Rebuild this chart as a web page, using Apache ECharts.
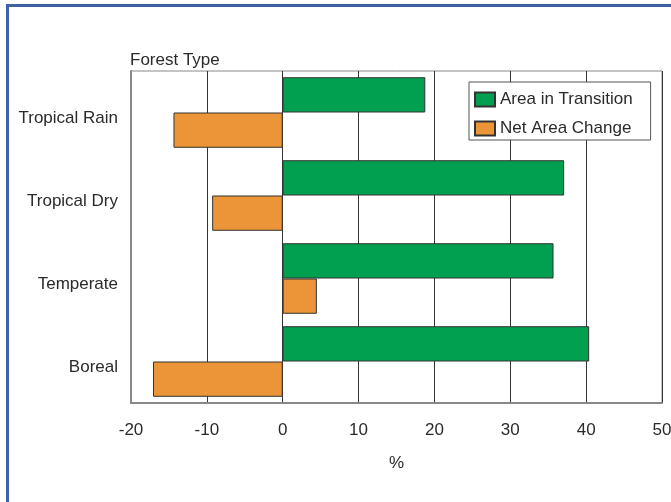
<!DOCTYPE html>
<html>
<head>
<meta charset="utf-8">
<script src="https://cdn.jsdelivr.net/npm/echarts@6/dist/echarts.min.js"></script>
<style>
html,body{margin:0;padding:0;background:#fff;}
#frame{position:absolute;left:6px;top:4px;width:700px;height:520px;border-left:3px solid #3f62a6;border-top:3px solid #3f62a6;}
#chart{position:absolute;left:0;top:0;width:671px;height:502px;}
</style>
</head>
<body>
<div id="frame"></div>
<div id="chart"></div>
<script>
const categories = ['Tropical Rain', 'Tropical Dry', 'Temperate', 'Boreal'];
const areaInTransition = [18.8, 37.1, 35.7, 40.4];
const netAreaChange = [-14.4, -9.3, 4.5, -17.1];
const xTicks = [-20, -10, 0, 10, 20, 30, 40, 50];

const FONT = '"Liberation Sans", Arial, sans-serif';
const FS = 17;
const TXT = '#2a2a2a';
const chart = echarts.init(document.getElementById('chart'), null, {renderer: 'canvas'});
chart.setOption({
  backgroundColor: 'transparent',
  animation: false,
  textStyle: {fontFamily: FONT, color: TXT},
  title: {
    text: 'Forest Type', left: 130, top: 52, padding: 0,
    textStyle: {fontFamily: FONT, fontSize: FS, fontWeight: 'normal', color: TXT}
  },
  legend: {
    orient: 'vertical', left: 469, top: 82,
    data: ['Area in Transition', 'Net Area Change'],
    backgroundColor: '#fff', borderColor: '#555', borderWidth: 1,
    padding: [9, 18, 3, 5], itemGap: 12, itemWidth: 20, itemHeight: 14, itemTextGap: 2,
    icon: 'rect',
    textStyle: {fontFamily: FONT, fontSize: FS, color: TXT}
  },
  grid: {left: 131, top: 71, right: 9, bottom: 99, show: true, borderColor: '#888', borderWidth: 1,
         containLabel: false, outerBoundsMode: 'none'},
  xAxis: {
    type: 'value', min: xTicks[0], max: xTicks[xTicks.length - 1], interval: 10,
    name: '%', nameLocation: 'middle', nameGap: 52,
    nameTextStyle: {fontFamily: FONT, fontSize: FS, color: TXT},
    axisLine: {show: true, lineStyle: {color: '#888', width: 2}},
    axisTick: {show: false},
    axisLabel: {fontFamily: FONT, fontSize: FS, color: TXT, margin: 19, hideOverlap: false},
    splitLine: {show: true, lineStyle: {color: '#333', width: 1}}
  },
  yAxis: {
    type: 'category', data: categories, inverse: true,
    axisLine: {show: true, onZero: false, lineStyle: {color: '#888', width: 2}},
    axisTick: {show: false},
    axisLabel: {fontFamily: FONT, fontSize: FS, color: TXT, margin: 13, verticalAlign: 'top', lineHeight: 12},
    splitLine: {show: false}
  },
  series: [
    {
      name: 'Area in Transition', type: 'bar', data: areaInTransition,
      barGap: '0%', barCategoryGap: '15%',
      itemStyle: {color: '#00a050', borderColor: '#333', borderWidth: 1}
    },
    {
      name: 'Net Area Change', type: 'bar', data: netAreaChange,
      barGap: '0%', barCategoryGap: '15%',
      itemStyle: {color: '#ec9538', borderColor: '#333', borderWidth: 1}
    }
  ]
});
</script>
</body>
</html>
